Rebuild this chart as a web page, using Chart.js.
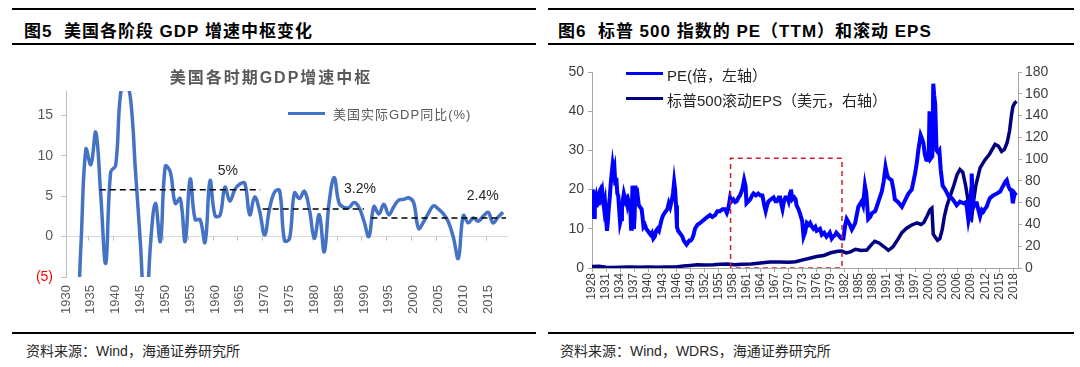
<!DOCTYPE html>
<html>
<head>
<meta charset="utf-8">
<script src="https://cdn.jsdelivr.net/npm/chart.js@4.4.1/dist/chart.umd.min.js"></script>
<style>
    body { margin: 0; width: 1080px; height: 367px; background: #fff; position: relative; overflow: hidden;
           font-family: "Liberation Sans", "Noto Sans CJK SC", sans-serif; }
    .rule { position: absolute; height: 2px; background: #000; }
    .head { position: absolute; font-weight: bold; font-size: 17px; color: #000; white-space: pre; letter-spacing: 1px; }
    .src { position: absolute; font-size: 14px; color: #262626; white-space: pre; }
    .box { position: absolute; }
    .txt { position: absolute; white-space: pre; z-index: 2; }
    .swatch { position: absolute; z-index: 2; }
</style>
</head>
<body>

<!-- 图5 -->
<div class="rule" style="left:12px; top:8px; width:524px;"></div>
<div class="head" style="left:24px; top:17px;">图5  美国各阶段 GDP 增速中枢变化</div>
<div class="rule" style="left:12px; top:43px; width:524px;"></div>
<div class="txt" style="left:141px; top:64px; width:260px; text-align:center; font-size:16px; font-weight:bold; color:#595959; letter-spacing:2px;">美国各时期GDP增速中枢</div>
<div class="swatch" style="left:288px; top:112px; width:37px; height:3px; background:#4472C4;"></div>
<div class="txt" style="left:333px; top:104px; font-size:13px; color:#595959; letter-spacing:1px;">美国实际GDP同比(%)</div>
<div class="box" style="left:11px; top:50px; width:526px; height:280px;"><canvas id="gdpChart"></canvas></div>
<div class="rule" style="left:12px; top:332px; width:524px;"></div>
<div class="src" style="left:26px; top:340px;">资料来源：Wind，海通证券研究所</div>

<!-- 图6 -->
<div class="rule" style="left:548px; top:8px; width:526px;"></div>
<div class="head" style="left:558px; top:17px;">图6  标普 500 指数的 PE（TTM）和滚动 EPS</div>
<div class="rule" style="left:548px; top:43px; width:526px;"></div>
<div class="swatch" style="left:626px; top:72px; width:37px; height:3px; background:#0000FF;"></div>
<div class="txt" style="left:667px; top:64px; font-size:15px; color:#262626;">PE(倍，左轴）</div>
<div class="swatch" style="left:626px; top:97px; width:37px; height:3px; background:#000080;"></div>
<div class="txt" style="left:667px; top:89px; font-size:15px; color:#262626;">标普500滚动EPS（美元，右轴）</div>
<div class="box" style="left:548px; top:50px; width:527px; height:280px;"><canvas id="peChart"></canvas></div>
<div class="rule" style="left:548px; top:332px; width:526px;"></div>
<div class="src" style="left:560px; top:340px;">资料来源：Wind，WDRS，海通证券研究所</div>

<script>
// ---- 图5 美国实际GDP同比 ----
const gdpYears = Array.from({ length: 89 }, (_, i) => 1930 + i);
const gdpValues = [
    -8.5, -6.4, -12.9, -1.2, 10.8, 8.9, 12.9, 5.1, -3.3, 8.0,
    8.8, 17.7, 18.9, 17.0, 8.0, -1.0, -11.6, -1.1, 4.1, -0.6,
    8.7, 8.0, 4.1, 4.7, -0.6, 7.1, 2.1, 2.1, -0.7, 6.9,
    2.6, 2.6, 6.1, 4.4, 5.8, 6.5, 6.6, 2.7, 4.9, 3.1,
    0.2, 3.5, 5.5, 5.7, -0.5, -0.3, 5.4, 4.7, 5.6, 3.4,
    -0.2, 2.7, -1.9, 4.3, 7.3, 4.1, 3.6, 3.6, 4.2, 3.6,
    1.9, 0.0, 3.7, 2.8, 4.0, 2.7, 3.7, 4.5, 4.6, 4.8,
    4.2, 1.0, 1.8, 2.9, 3.8, 3.4, 2.8, 1.8, -0.1, -2.7,
    2.6, 1.7, 2.3, 1.9, 2.5, 3.0, 1.7, 2.4, 3.0
];
const gdpTickYears = [1930, 1935, 1940, 1945, 1950, 1955, 1960, 1965, 1970, 1975, 1980, 1985, 1990, 1995, 2000, 2005, 2010, 2015];
const gdpTickValues = [-5, 0, 5, 10, 15];

// 各阶段中枢（虚线）
const centerStarts = [1936.8, 1969.6, 1991.5];
const centerEnds = [1969.1, 1990.0, 2018.6];
const centerValues = [5.8, 3.4, 2.3];
const centerLabels = ['5%', '3.2%', '2.4%'];
const labelYears = [1962.6, 1989.2, 2013.9];
const labelValues = [8.1, 5.9, 5.0];

// ---- 图6 标普500 PE 与滚动EPS ----
const peYears = [
    1928.0, 1928.15, 1928.3, 1928.45, 1928.6, 1928.8, 1929.0, 1929.2, 1929.4, 1929.6, 1929.8,
    1930.0, 1930.2, 1930.4, 1930.6, 1930.8, 1931.0, 1931.2, 1931.4, 1931.6, 1931.8,
    1932.0, 1932.2, 1932.4, 1932.6, 1932.8, 1933.0, 1933.2, 1933.4, 1933.6, 1933.8,
    1934.0, 1934.2, 1934.4, 1934.6, 1934.8, 1935.0, 1935.2, 1935.4, 1935.6, 1935.8,
    1936.0, 1936.2, 1936.35, 1936.5, 1936.65, 1936.8, 1936.95, 1937.1, 1937.25, 1937.4, 1937.55, 1937.8,
    1938.0, 1938.3, 1938.6, 1938.8, 1939.0, 1939.3, 1939.6, 1939.9,
    1940.2, 1940.5, 1940.8, 1941.1, 1941.4, 1941.7, 1942.0, 1942.3, 1942.6, 1942.9,
    1943.2, 1943.5, 1943.8, 1944.1, 1944.4, 1944.7, 1945.0, 1945.3, 1945.55, 1945.75, 1945.95,
    1946.15, 1946.4, 1946.7, 1947.0, 1947.3, 1947.6, 1947.9, 1948.2, 1948.5, 1948.8, 1949.1, 1949.4, 1949.7,
    1950.0, 1950.5, 1951.1, 1951.6, 1952.1, 1952.6, 1953.2, 1953.7, 1954.3, 1954.8, 1955.3, 1955.9,
    1956.4, 1956.8, 1957.1, 1957.5, 1957.8, 1958.2, 1958.6, 1958.9, 1959.3, 1959.6,
    1960.1, 1960.5, 1960.8, 1961.0, 1961.4, 1961.8, 1962.2, 1962.5, 1963.0, 1963.5, 1964.0, 1964.4, 1964.8,
    1965.1, 1965.4, 1965.7, 1966.2, 1966.8, 1967.2, 1967.5, 1967.9, 1968.2, 1968.5, 1968.7, 1969.0, 1969.3, 1969.7,
    1970.0, 1970.3, 1970.5, 1970.8, 1971.2, 1971.5, 1971.7, 1972.1, 1972.4, 1972.9, 1973.2, 1973.5, 1973.9,
    1974.3, 1974.6, 1975.0, 1975.3, 1975.7, 1976.0, 1976.7, 1977.1, 1977.6, 1978.1, 1978.5, 1978.8,
    1979.2, 1979.5, 1980.0, 1980.2, 1980.6, 1980.9, 1981.3, 1981.7, 1982.1, 1982.4, 1983.1, 1983.5,
    1984.2, 1984.9, 1985.6, 1985.9, 1986.3, 1986.6, 1987.0, 1987.4, 1987.8, 1988.5, 1989.2, 1989.9,
    1990.3, 1990.7, 1991.0, 1991.3, 1992.0, 1992.4, 1992.7, 1993.4, 1994.2, 1994.9, 1995.6, 1996.3,
    1997.0, 1997.4, 1997.7, 1998.2, 1998.5, 1998.8, 1999.1, 1999.4, 1999.9, 2000.1, 2000.4, 2000.7,
    2000.9, 2001.1, 2001.3, 2001.6, 2001.9, 2002.2, 2002.5, 2002.9, 2003.5, 2004.2, 2004.7, 2005.2,
    2005.9, 2006.6, 2007.4, 2007.9, 2008.1, 2008.4, 2008.6, 2008.8, 2009.0, 2009.1, 2009.3, 2009.5,
    2009.9, 2010.2, 2010.6, 2010.9, 2011.3, 2011.6, 2012.0, 2012.3, 2012.7, 2013.0, 2013.4, 2013.8,
    2014.5, 2015.2, 2015.6, 2015.9, 2016.3, 2016.6, 2016.8, 2017.0, 2017.3, 2017.6, 2017.8, 2017.9,
    2018.1, 2018.3, 2018.6
];
const peValues = [
    17.5, 20, 18.5, 13, 17, 18, 15.5, 18.5, 16, 19.5, 20,
    18.5, 19.5, 17, 15, 16.5, 13, 9.5, 12, 15.5, 18,
    21.5, 24, 26.3, 24.5, 25.5, 21, 23, 19, 18.5, 15,
    11.5, 12.5, 15, 17.5, 19, 18, 17, 17.5, 16, 17,
    16, 15, 10, 14, 21, 17, 10, 13, 21, 19, 20.5, 18,
    16, 15.5, 15, 13, 10.5, 11, 10, 9.5,
    9, 8.5, 9, 7.5, 8, 9.5, 10, 9.5, 11, 12.5,
    13.5, 14, 14.5, 15, 16.5, 15.5, 17, 19, 22, 20, 16,
    10.5, 9.5, 9, 8.5, 8, 7, 6.5, 6, 6.5, 7, 7, 7.5, 8.5,
    10, 11, 11.5, 12, 12.5, 13, 13.5, 13, 13.5, 14.5, 14.5, 15,
    15, 14, 15, 18, 17, 17.5, 16.8, 17, 18, 18.5,
    20, 22.5, 21, 16.5, 17, 17.5, 18.5, 19, 18.5, 19, 18.5, 18.5, 16,
    14.5, 16, 17, 17.5, 18, 17, 17, 18, 18, 16, 15, 17, 18, 18,
    17, 19, 20, 17.5, 18, 17.5, 16, 15, 14, 12, 8, 9, 11.5,
    11, 11.5, 10.5, 10, 10.5, 9.5, 10, 8.5, 9, 8, 8.5, 9,
    7.5, 8, 8.5, 9, 8.5, 8, 7.5, 7.5, 11, 12.5, 11, 9.8,
    11.4, 15.6, 17, 16, 21, 19, 12.5, 13, 14, 14.5, 17, 19.5,
    22, 25.8, 24, 23, 22.4, 20, 17.5, 16.8, 15.6, 17.3, 19, 20,
    24, 27, 30, 33.9, 33, 31.8, 29, 27.6, 27.5, 40, 28, 28.5,
    47, 44, 42, 30, 29.5, 30, 25, 21, 19.9, 18.2, 18, 17.3,
    16, 16.9, 16.5, 16.8, 15.2, 12.2, 13.5, 13.1, 20, 24.1, 19, 15.6,
    16.5, 16.5, 14.5, 13.1, 14.8, 14.4, 15.2, 15.6, 17, 17.8, 18.2, 18.6,
    19, 19.5, 20.5, 21.1, 22, 22.4, 21.5, 20.7, 20, 19.9, 17.5, 16.5,
    18, 19, 18.5
];
const epsYears = [
    1928, 1929.5, 1931, 1932.5, 1934, 1936, 1938, 1940, 1942, 1944, 1946, 1947.5, 1949,
    1950.5, 1952, 1954, 1955.5, 1957, 1958.5, 1960, 1962, 1964, 1966, 1968, 1970, 1971.5,
    1973, 1974.5, 1976, 1977.5, 1979, 1980.5, 1981.3, 1982.3, 1983.2, 1984.3, 1985.5, 1986.7,
    1987.6, 1988.4, 1989.3, 1990.4, 1991.3, 1992.3, 1993.3, 1994.2, 1995.2, 1996.3, 1997.4,
    1998.3, 1998.9, 1999.6, 2000.2, 2000.6, 2000.9, 2001.3, 2001.8, 2002.3, 2002.8, 2003.3,
    2003.8, 2004.5, 2005.3, 2006.0, 2006.6, 2007.2, 2007.8, 2008.3, 2008.8, 2009.1, 2009.5,
    2010.0, 2010.9, 2011.9, 2012.9, 2014.1, 2014.8, 2015.5, 2016.1, 2016.7, 2017.2, 2017.6,
    2017.9, 2018.3, 2018.7
];
const epsValues = [
    1.3, 1.5, 0.8, 0.4, 0.6, 0.9, 0.7, 0.9, 0.8, 0.9, 1.0, 1.8, 2.4,
    2.9, 2.8, 2.9, 3.5, 3.6, 3.1, 3.4, 3.6, 4.5, 5.5, 5.6, 5.3, 5.8,
    7.5, 9, 10.5, 11.5, 14, 15.3, 15.5, 13.8, 14.8, 17.2, 16, 16.5,
    21, 24.5, 23, 19.5, 16.2, 19.5, 26, 32.5, 36.5, 39.5, 41.5,
    40, 42, 48, 53.5, 55, 31, 28.5, 25.5, 27, 35, 48,
    57, 66, 76, 86, 90.5, 88, 76, 63, 48, 46, 61,
    76, 92, 99, 104.5, 113.5, 112, 107, 109, 115.5, 126, 140,
    148, 151.5, 153
];
const peTickYears = [1928, 1931, 1934, 1937, 1940, 1943, 1946, 1949, 1952, 1955, 1958, 1961, 1964, 1967, 1970,
    1973, 1976, 1979, 1982, 1985, 1988, 1991, 1994, 1997, 2000, 2003, 2006, 2009, 2012, 2015, 2018];
const boxYears = [1957.6, 1981.4];
const boxTop = 28;

const toPoints = (xs, ys) => xs.map((x, i) => ({ x: x, y: ys[i] }));
const fontFamily = '"Liberation Sans", "Noto Sans CJK SC", sans-serif';

const gdpMarks = {
    id: 'gdpMarks',
    beforeDatasetsDraw(chart) {
        const { ctx, scales: { x, y }, chartArea } = chart;
        const y0 = y.getPixelForValue(0);
        ctx.save();
        ctx.strokeStyle = '#BFBFBF';
        ctx.lineWidth = 1;
        gdpTickYears.forEach(yr => {
            const px = Math.round(x.getPixelForValue(yr - 0.5)) + 0.5;
            if (px < chartArea.left + 2) return;
            ctx.beginPath();
            ctx.moveTo(px, y0);
            ctx.lineTo(px, y0 + 4);
            ctx.stroke();
        });
        ctx.restore();
    },
    afterDatasetsDraw(chart) {
        const { ctx, scales: { x, y } } = chart;
        ctx.save();
        ctx.fillStyle = '#262626';
        ctx.font = '14px ' + fontFamily;
        ctx.textAlign = 'center';
        ctx.textBaseline = 'middle';
        centerLabels.forEach((t, i) => {
            ctx.fillText(t, x.getPixelForValue(labelYears[i]), y.getPixelForValue(labelValues[i]));
        });
        ctx.restore();
    }
};

const centerSets = centerValues.map((v, i) => ({
    data: [{ x: centerStarts[i], y: v }, { x: centerEnds[i], y: v }],
    borderColor: '#000',
    borderWidth: 1.5,
    borderDash: [6, 4],
    pointRadius: 0,
    tension: 0
}));

new Chart(document.getElementById('gdpChart'), {
    type: 'line',
    data: {
        datasets: [
            ...centerSets,
            {
                label: '美国实际GDP同比(%)',
                data: toPoints(gdpYears, gdpValues),
                borderColor: '#4472C4',
                borderWidth: 3.5,
                pointRadius: 0,
                tension: 0.4
            }
        ]
    },
    options: {
        responsive: true,
        maintainAspectRatio: false,
        animation: false,
        layout: { padding: { left: 0, right: 29, top: 41, bottom: 8 } },
        plugins: { legend: { display: false }, tooltip: { enabled: false } },
        scales: {
            x: {
                type: 'linear', min: 1930, max: 2019,
                afterBuildTicks: s => { s.ticks = gdpTickYears.map(v => ({ value: v })); },
                afterFit: s => { s.height = 45; },
                grid: { display: false, drawTicks: false },
                border: { display: false },
                ticks: { autoSkip: false, minRotation: 90, maxRotation: 90, padding: 8, color: '#595959',
                         font: { size: 13, family: fontFamily }, callback: v => String(v) }
            },
            y: {
                min: -5, max: 18,
                afterBuildTicks: s => { s.ticks = gdpTickValues.map(v => ({ value: v })); },
                afterFit: s => { s.width = 55; },
                grid: {
                    color: c => (c.tick && c.tick.value === 0) ? '#D9D9D9' : 'rgba(0,0,0,0)',
                    tickColor: '#BFBFBF', tickLength: 5
                },
                border: { display: true, color: '#BFBFBF' },
                ticks: {
                    padding: 8,
                    color: c => c.tick.value < 0 ? '#FF0000' : '#595959',
                    font: { size: 14, family: fontFamily },
                    callback: v => v < 0 ? '(' + Math.abs(v) + ')' : String(v)
                }
            }
        }
    },
    plugins: [gdpMarks]
});

const axisGray = '#A6A6A6';

new Chart(document.getElementById('peChart'), {
    type: 'line',
    data: {
        datasets: [
            {
                label: 'box',
                data: [
                    { x: boxYears[0], y: 0 }, { x: boxYears[0], y: boxTop },
                    { x: boxYears[1], y: boxTop }, { x: boxYears[1], y: 0 }, { x: boxYears[0], y: 0 }
                ],
                borderColor: '#D0202A',
                borderWidth: 1.5,
                borderDash: [5, 4],
                pointRadius: 0,
                tension: 0,
                yAxisID: 'y'
            },
            {
                label: 'PE(倍，左轴）',
                data: toPoints(peYears, peValues),
                borderColor: '#0000FF',
                borderWidth: 4,
                pointRadius: 0,
                tension: 0,
                yAxisID: 'y'
            },
            {
                label: '标普500滚动EPS（美元，右轴）',
                data: toPoints(epsYears, epsValues),
                borderColor: '#000080',
                borderWidth: 3.5,
                pointRadius: 0,
                tension: 0,
                yAxisID: 'y1'
            }
        ]
    },
    options: {
        responsive: true,
        maintainAspectRatio: false,
        animation: false,
        layout: { padding: { left: 0, right: 0, top: 22, bottom: 12 } },
        plugins: { legend: { display: false }, tooltip: { enabled: false } },
        scales: {
            x: {
                type: 'linear', min: 1928, max: 2019,
                afterBuildTicks: s => { s.ticks = peTickYears.map(v => ({ value: v })); },
                afterFit: s => { s.height = 50; },
                grid: { drawOnChartArea: false, tickLength: 4, color: axisGray },
                border: { display: true, color: axisGray },
                ticks: { autoSkip: false, minRotation: 90, maxRotation: 90, padding: 1, color: '#404040',
                         font: { size: 12, family: fontFamily }, callback: v => String(v) }
            },
            y: {
                position: 'left', min: 0, max: 50,
                afterFit: s => { s.width = 44; },
                grid: { drawOnChartArea: false, tickLength: 4, color: axisGray },
                border: { display: true, color: axisGray },
                ticks: { stepSize: 10, padding: 4, color: '#404040', font: { size: 14, family: fontFamily } }
            },
            y1: {
                position: 'right', min: 0, max: 180,
                afterFit: s => { s.width = 57; },
                grid: { drawOnChartArea: false, tickLength: 4, color: axisGray },
                border: { display: true, color: axisGray },
                ticks: { stepSize: 20, padding: 3, color: '#404040', font: { size: 14, family: fontFamily } }
            }
        }
    }
});
</script>
</body>
</html>
